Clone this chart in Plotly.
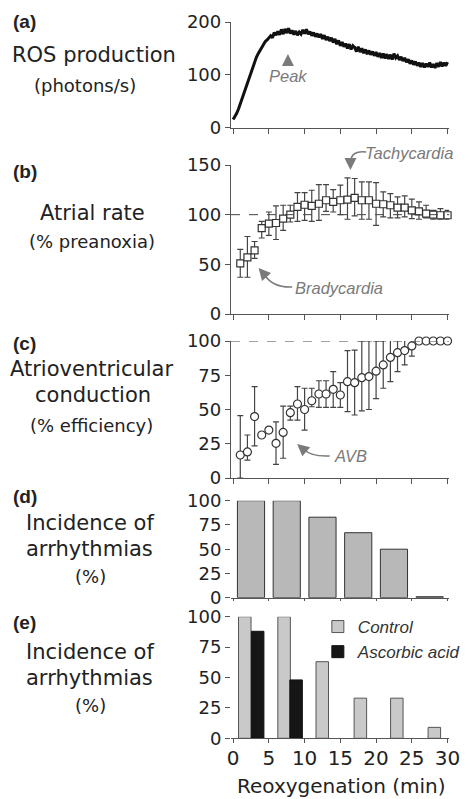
import plotly.graph_objects as go

W, H = 466, 799

# ---------------- data ----------------
# (a) ROS production (photons/s) vs reoxygenation time (min)
ros_time = [0, 0.25, 0.5, 0.75, 1, 1.25, 1.5, 1.75, 2, 2.25, 2.5, 2.75, 3, 3.25, 3.5, 3.75,
            4, 4.25, 4.5, 4.75, 5, 5.25, 5.5, 5.75, 6, 6.25, 6.5, 6.75, 7, 7.25, 7.5, 7.75,
            8, 8.25, 8.5, 8.75, 9, 9.25, 9.5, 9.75, 10, 10.25, 10.5, 10.75, 11, 11.25, 11.5, 11.75,
            12, 12.25, 12.5, 12.75, 13, 13.25, 13.5, 13.75, 14, 14.25, 14.5, 14.75, 15, 15.25, 15.5, 15.75,
            16, 16.25, 16.5, 16.75, 17, 17.25, 17.5, 17.75, 18, 18.25, 18.5, 18.75, 19, 19.25, 19.5, 19.75,
            20, 20.25, 20.5, 20.75, 21, 21.25, 21.5, 21.75, 22, 22.25, 22.5, 22.75, 23, 23.25, 23.5, 23.75,
            24, 24.25, 24.5, 24.75, 25, 25.25, 25.5, 25.75, 26, 26.25, 26.5, 26.75, 27, 27.25, 27.5, 27.75,
            28, 28.25, 28.5, 28.75, 29, 29.25, 29.5, 29.75, 30]
ros_values = [15, 20, 27, 35, 45, 55, 66, 76, 86, 97, 106, 116, 125, 133, 140, 146,
              152, 158, 163, 166, 171, 174, 170, 180, 175, 182, 176, 186, 177, 187, 179, 188,
              178, 184, 176, 183, 175, 181, 177, 185, 178, 186, 177, 182, 174, 180, 172, 178,
              171, 177, 168, 175, 166, 172, 164, 170, 161, 168, 158, 165, 155, 162, 153, 159,
              150, 158, 148, 155, 152, 144, 153, 143, 150, 141, 148, 139, 146, 138, 144, 136,
              143, 134, 141, 132, 140, 131, 139, 130, 138, 129, 140, 132, 136, 128, 134, 126,
              132, 124, 129, 121, 127, 119, 125, 117, 123, 115, 122, 114, 121, 115, 123, 114,
              120, 113, 122, 115, 124, 116, 123, 117, 124]

# (b) Atrial rate (% preanoxia)
minutes = [1, 2, 3, 4, 5, 6, 7, 8, 9, 10, 11, 12, 13, 14, 15,
           16, 17, 18, 19, 20, 21, 22, 23, 24, 25, 26, 27, 28, 29, 30]
atrial_rate = [51, 57, 64, 86.5, 91, 91.6, 96, 100, 107.8, 110, 108.8, 111, 114.5, 112.8, 114.5,
               115.2, 116.9, 114.5, 114.5, 111, 110.5, 109.5, 107, 107, 104.4, 103.4, 101, 100, 99.4, 99.4]
atrial_err_up = [14, 21, 9, 6.8, 11.7, 17.2, 13.5, 9.5, 14.4, 12.2, 15.8, 19.3, 15.8, 12.5, 15.2,
                 21.8, 19.5, 18.5, 18.5, 21.3, 12.4, 11.7, 10.9, 11.9, 11.2, 9.4, 8.5, 4.4, 6.6, 5]
atrial_err_down = [14, 20, 8, 10, 11.8, 16.6, 11.8, 7.4, 14.5, 15.7, 15.5, 16.7, 11.1, 10.1, 14.5,
                   19.8, 18.2, 19.1, 19.1, 21.7, 12.8, 12.8, 10.3, 9.3, 8.4, 8, 4.3, 4.6, 4, 4]

# (c) Atrioventricular conduction (% efficiency)
av_conduction = [16.8, 19, 44.8, 31.4, 35, 25.3, 33.3, 47.7, 54, 50, 56.4, 61.3, 61.3, 64.7, 60.6,
                 70.3, 69.6, 73.2, 74, 78, 82.5, 88, 91.5, 93, 96.4, 100, 100, 100, 100, 100]
av_err_up = [28.7, 12.4, 21.9, 0, 0, 15.7, 19.2, 4.8, 12.7, 15.5, 9.1, 9.7, 9.7, 12.9, 9,
             22.7, 23.8, 26.8, 26, 22, 17.5, 18.8, 13.5, 11.4, 5.6, 0, 0, 0, 0, 0]
av_err_down = [16.8, 6, 21.4, 0, 0, 15.3, 18.9, 5.4, 11.7, 15, 4.4, 9.8, 9.8, 13.2, 9.1,
               21.9, 23.6, 24.2, 24, 20, 17, 17.7, 13.9, 10.5, 7.4, 0, 0, 0, 0, 0]

# (d) Incidence of arrhythmias (%) per 5-min bin
bin_time = [2.5, 7.5, 12.5, 17.5, 22.5, 27.5]
arrhythmia_incidence = [100, 100, 83, 67, 50, 1]

# (e) Incidence of arrhythmias (%) - Control vs Ascorbic acid
control_time = [1.63, 7.13, 12.47, 17.8, 22.9, 28.15]
control_incidence = [100, 100, 63, 33, 33, 9]
ascorbic_time = [3.43, 8.81]
ascorbic_incidence = [88, 48]

x_tick_vals = [0, 5, 10, 15, 20, 25, 30]
x_tick_text = ["0", "5", "10", "15", "20", "25", "30"]
x_title = "Reoxygenation (min)"

# ---------------- styling helpers ----------------
TICKFONT = dict(family="DejaVu Sans", size=18, color="#222")
LABELFONT = "DejaVu Sans"
AXCOL = "#555"
GRAY = "#7a7a7a"


def px(x, y):
    """pixel -> paper coordinates (margins are zero)"""
    return x / W, 1 - y / H


def ydom(bottom_px, top_px):
    return [1 - bottom_px / H, 1 - top_px / H]


XDOM = [234 / W, 455 / W]
XR = [-0.3, 30.22]

fig = go.Figure()

# (a)
fig.add_trace(go.Scatter(x=ros_time, y=ros_values, mode="lines",
                         line=dict(color="#111", width=3), showlegend=False,
                         xaxis="x", yaxis="y"))

# (b)
fig.add_trace(go.Scatter(x=minutes, y=atrial_rate, mode="markers", showlegend=False,
                         marker=dict(symbol="square", size=7, color="white",
                                     line=dict(color="#333", width=1.2)),
                         error_y=dict(type="data", symmetric=False, array=atrial_err_up,
                                      arrayminus=atrial_err_down, color="#444",
                                      thickness=1.2, width=3),
                         cliponaxis=False, xaxis="x2", yaxis="y2"))

# (c)
fig.add_trace(go.Scatter(x=minutes, y=av_conduction, mode="markers", showlegend=False,
                         marker=dict(symbol="circle", size=8, color="white",
                                     line=dict(color="#333", width=1.2)),
                         error_y=dict(type="data", symmetric=False, array=av_err_up,
                                      arrayminus=av_err_down, color="#444",
                                      thickness=1.2, width=3),
                         cliponaxis=False, xaxis="x3", yaxis="y3"))

# (d)
fig.add_trace(go.Bar(x=bin_time, y=arrhythmia_incidence, width=3.8, showlegend=False,
                     marker=dict(color="#b8b8b8", line=dict(color="#333", width=1)),
                     xaxis="x4", yaxis="y4"))

# (e)
fig.add_trace(go.Bar(x=control_time, y=control_incidence, width=1.75, name="<i>Control</i>",
                     marker=dict(color="#c9c9c9", line=dict(color="#555", width=1)),
                     xaxis="x5", yaxis="y5"))
fig.add_trace(go.Bar(x=ascorbic_time, y=ascorbic_incidence, width=1.75, name="<i>Ascorbic acid</i>",
                     marker=dict(color="#161616", line=dict(color="#111", width=1)),
                     xaxis="x5", yaxis="y5"))

panels = [
    # (bottom px, top px, y range, y ticks, show y line, x ticklen)
    (127.5, 22, [0, 200], [0, 100, 200], True, 5),
    (314, 165, [0, 150], [0, 50, 100, 150], True, 5),
    (478, 341, [0, 100], [0, 25, 50, 75, 100], True, 5),
    (597.7, 500.7, [0, 100], [0, 25, 50, 75, 100], False, 2),
    (738.3, 616.7, [0, 100], [0, 25, 50, 75, 100], False, 4),
]

layout_axes = {}
for i, (bp, tp, yr, yt, yline, xtl) in enumerate(panels, start=1):
    xs = "" if i == 1 else str(i)
    last = i == 5
    layout_axes["xaxis" + xs] = dict(
        domain=XDOM, range=XR, anchor="y" + xs, showline=True, linecolor=AXCOL,
        linewidth=1.3, ticks="outside", ticklen=xtl, tickwidth=1.2, tickcolor=AXCOL,
        tickvals=x_tick_vals, ticktext=x_tick_text, showticklabels=last,
        tickfont=dict(family="DejaVu Sans", size=20, color="#222"),
        showgrid=False, zeroline=False, automargin=False, fixedrange=True,
    )
    layout_axes["yaxis" + xs] = dict(
        domain=ydom(bp, tp), range=yr, anchor="x" + xs, showline=yline, linecolor=AXCOL,
        linewidth=1.3, ticks="outside", ticklen=5, tickwidth=1.2, tickcolor=AXCOL,
        tickvals=yt, tickfont=TICKFONT, showgrid=False, zeroline=False,
        automargin=False, fixedrange=True,
    )
layout_axes["xaxis5"]["ticklabelstandoff"] = -2

fig.update_layout(
    width=W, height=H, autosize=False,
    margin=dict(l=0, r=0, t=0, b=0),
    paper_bgcolor="white", plot_bgcolor="white",
    barmode="overlay",
    legend=dict(x=322 / W, y=1 - 609 / H, xanchor="left", yanchor="top",
                font=dict(family="Liberation Sans", size=17, color="#333"),
                bgcolor="rgba(0,0,0,0)", itemwidth=30, tracegroupgap=0),
    **layout_axes,
)

# reference lines at 100 %
for ax in ["2", "3"]:
    fig.add_shape(type="line", xref="x" + ax + " domain", yref="y" + ax,
                  x0=0, x1=1, y0=100, y1=100,
                  line=dict(color="#444", width=1, dash="dash"))

annotations = []


def label(text, x, y, size, bold=False, anchor="center", family=LABELFONT):
    xp, yp = px(x, y)
    annotations.append(dict(text=("<b>%s</b>" % text) if bold else text, x=xp, y=yp,
                            xref="paper", yref="paper", xanchor=anchor, yanchor="middle",
                            showarrow=False,
                            font=dict(family=family, size=size, color="#222")))


MAIN, SUB, LET = 21, 18, 19
label("(a)", 11, 21.7, LET, bold=True, anchor="left", family="Liberation Sans")
label("ROS production", 95, 55, MAIN)
label("(photons/s)", 86, 85, SUB)
label("(b)", 11, 171, LET, bold=True, anchor="left", family="Liberation Sans")
label("Atrial rate", 93.5, 213, MAIN)
label("(% preanoxia)", 93.5, 241.5, SUB)
label("(c)", 11, 343.5, LET, bold=True, anchor="left", family="Liberation Sans")
label("Atrioventricular", 92.5, 369, MAIN)
label("conduction", 94.5, 395, MAIN)
label("(% efficiency)", 93, 425, SUB)
label("(d)", 11, 496, LET, bold=True, anchor="left", family="Liberation Sans")
label("Incidence of", 91.5, 523, MAIN)
label("arrhythmias", 91, 549, MAIN)
label("(%)", 92, 576, SUB)
label("(e)", 11, 622, LET, bold=True, anchor="left", family="Liberation Sans")
label("Incidence of", 91.5, 652, MAIN)
label("arrhythmias", 91, 678, MAIN)
label("(%)", 92, 705, SUB)
# x-axis title of the bottom panel
label(x_title, 346, 786, 20)


def note(text, x, y):
    xp, yp = px(x, y)
    annotations.append(dict(text="<i>%s</i>" % text, x=xp, y=yp, xref="paper", yref="paper",
                            xanchor="center", yanchor="middle", showarrow=False,
                            font=dict(family="Liberation Sans", size=16.5, color=GRAY)))


def arrowhead(tipx, tipy, ax, ay):
    xp, yp = px(tipx, tipy)
    annotations.append(dict(text="", x=xp, y=yp, xref="paper", yref="paper",
                            ax=ax, ay=ay, showarrow=True, arrowhead=2, arrowsize=1.6,
                            arrowwidth=1.5, arrowcolor=GRAY, standoff=0))


def curve(p0, c, p1):
    a = px(*p0)
    b = px(*c)
    d = px(*p1)
    fig.add_shape(type="path", xref="paper", yref="paper",
                  path="M %f,%f Q %f,%f %f,%f" % (a[0], a[1], b[0], b[1], d[0], d[1]),
                  line=dict(color=GRAY, width=1.5))


# Peak (straight arrow)
note("Peak", 291.7, 76)
arrowhead(291.7, 54, 0, 13)

# Tachycardia
note("Tachycardia", 414, 152.5)
curve((371, 152), (356, 150), (355, 162))
arrowhead(355, 170, 0, -9)

# Bradycardia
note("Bradycardia", 343, 287.5)
curve((296, 287), (277, 288), (268, 275))
arrowhead(262, 268, 7, 8)

# AVB
note("AVB", 355, 456)
curve((334, 456), (316, 457), (307, 449))
arrowhead(301, 444, 7, 6)

fig.update_layout(annotations=annotations)

fig.write_html(
    "out.html",
    config={"displayModeBar": False},
    post_script="document.body.style.margin='0px';document.body.style.overflow='hidden';",
)
